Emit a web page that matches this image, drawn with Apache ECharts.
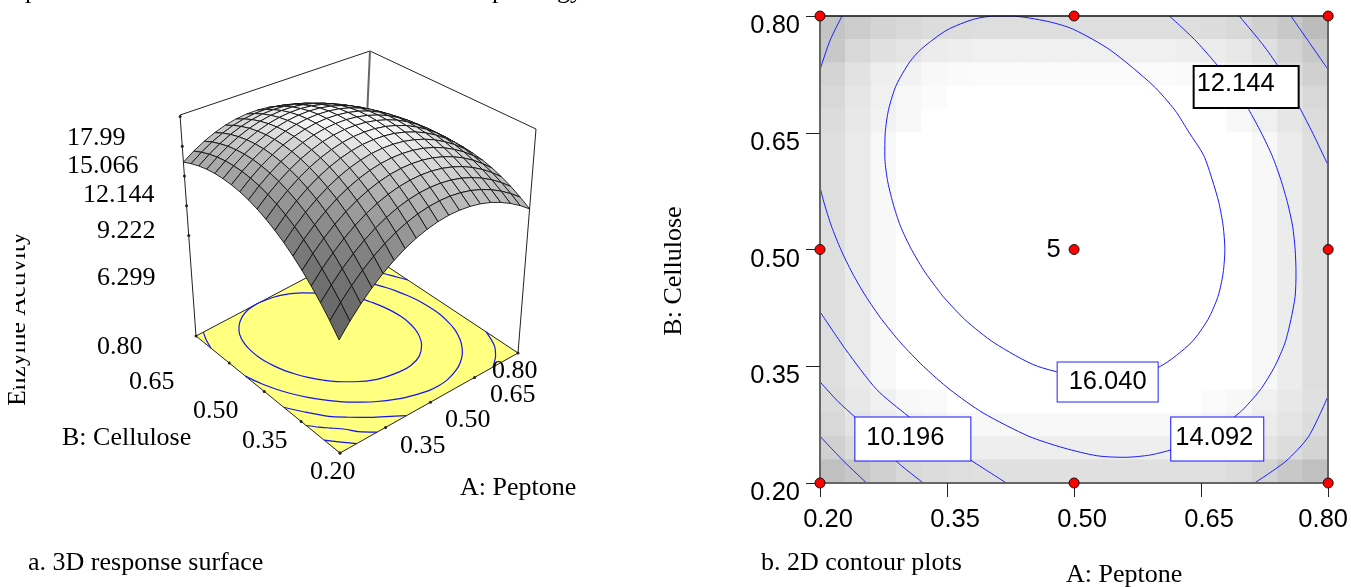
<!DOCTYPE html>
<html>
<head>
<meta charset="utf-8">
<title>Enzyme activity response surface</title>
<style>
  html, body { margin: 0; padding: 0; background: #fff; }
  #main { width: 1351px; height: 587px; }
</style>
<script src="https://cdn.jsdelivr.net/npm/echarts@6/dist/echarts.min.js"></script>
</head>
<body>
<div id="main"></div>
<script>
// surface heights, estimated from the contour levels and corner heights
// one row per B step (0.20 -> 0.80), one column per A step (0.20 -> 0.80)
const surfaceRows = [
  [6.33,7.53,8.62,9.59,10.44,11.18,11.81,12.33,12.72,13.01,13.18,13.23,13.17,13.00,12.71,12.30,11.78,11.15,10.40],
  [7.46,8.63,9.69,10.63,11.46,12.17,12.77,13.26,13.63,13.88,14.02,14.05,13.96,13.76,13.44,13.01,12.46,11.80,11.03],
  [8.50,9.64,10.67,11.59,12.39,13.07,13.64,14.10,14.44,14.67,14.78,14.78,14.67,14.44,14.09,13.63,13.06,12.37,11.57],
  [9.45,10.57,11.57,12.45,13.23,13.89,14.43,14.86,15.17,15.37,15.46,15.43,15.29,15.03,14.66,14.17,13.57,12.85,12.02],
  [10.32,11.41,12.38,13.24,13.98,14.61,15.13,15.53,15.82,15.99,16.05,15.99,15.82,15.53,15.13,14.62,13.99,13.24,12.39],
  [11.10,12.16,13.11,13.94,14.66,15.26,15.75,16.12,16.38,16.52,16.55,16.47,16.27,15.96,15.53,14.98,14.33,13.55,12.67],
  [11.80,12.83,13.75,14.55,15.24,15.82,16.28,16.62,16.86,16.97,16.97,16.86,16.63,16.29,15.84,15.26,14.58,13.78,12.86],
  [12.41,13.42,14.31,15.08,15.74,16.29,16.72,17.04,17.25,17.33,17.31,17.17,16.91,16.54,16.06,15.46,14.75,13.92,12.98],
  [12.94,13.92,14.78,15.53,16.16,16.68,17.08,17.37,17.55,17.61,17.56,17.39,17.10,16.71,16.19,15.57,14.83,13.97,13.00],
  [13.38,14.33,15.16,15.88,16.49,16.98,17.36,17.62,17.77,17.80,17.72,17.52,17.21,16.79,16.25,15.59,14.82,13.94,12.94],
  [13.74,14.66,15.46,16.16,16.73,17.20,17.55,17.78,17.90,17.91,17.80,17.57,17.23,16.78,16.21,15.53,14.73,13.82,12.79],
  [14.01,14.90,15.68,16.34,16.89,17.33,17.65,17.86,17.95,17.93,17.79,17.54,17.17,16.69,16.09,15.38,14.56,13.62,12.56],
  [14.19,15.06,15.81,16.45,16.97,17.38,17.67,17.85,17.91,17.86,17.70,17.42,17.02,16.51,15.89,15.15,14.30,13.33,12.25],
  [14.29,15.13,15.85,16.46,16.96,17.34,17.60,17.75,17.79,17.71,17.52,17.21,16.79,16.25,15.60,14.83,13.95,12.96,11.85],
  [14.31,15.12,15.81,16.39,16.86,17.21,17.45,17.57,17.58,17.47,17.25,16.92,16.47,15.90,15.22,14.43,13.52,12.50,11.36],
  [14.24,15.02,15.69,16.24,16.68,17.00,17.21,17.31,17.29,17.15,16.90,16.54,16.06,15.47,14.76,13.94,13.00,11.95,10.79],
  [14.08,14.83,15.47,16.00,16.41,16.71,16.89,16.95,16.91,16.74,16.47,16.08,15.57,14.95,14.22,13.37,12.40,11.32,10.13],
  [13.84,14.56,15.18,15.67,16.06,16.32,16.48,16.52,16.44,16.25,15.95,15.53,14.99,14.35,13.58,12.71,11.71,10.61,9.39],
  [13.51,14.21,14.79,15.26,15.62,15.86,15.98,15.99,15.89,15.67,15.34,14.89,14.33,13.66,12.87,11.96,10.94,9.81,8.56]
];
const surfaceSteps = surfaceRows.length - 1;

// contour lines as [A, B]
const contour16040 = [[0.345,0.44],[0.3245,0.47],[0.308,0.50],[0.295,0.53],[0.286,0.56],[0.2795,0.59],[0.2765,0.62],[0.277,0.65],[0.281,0.68],[0.290,0.711],[0.306,0.741],[0.320,0.758],[0.350,0.782],[0.382,0.796],[0.407,0.800],[0.425,0.800],[0.469,0.793],[0.499,0.783],[0.543,0.756],[0.593,0.711],[0.619,0.679],[0.636,0.65],[0.653,0.621],[0.663,0.59],[0.671,0.56],[0.676,0.53],[0.678,0.50],[0.676,0.47],[0.670,0.44],[0.658,0.41],[0.638,0.38],[0.602,0.35],[0.56,0.336],[0.52,0.336],[0.4567,0.35],[0.4058,0.38],[0.371,0.41],[0.345,0.44]];
const contour14092Main = [[0.6125,0.80],[0.642,0.77],[0.6665,0.74],[0.688,0.71],[0.706,0.68],[0.721,0.65],[0.734,0.62],[0.744,0.59],[0.752,0.56],[0.758,0.53],[0.761,0.50],[0.762,0.47],[0.761,0.44],[0.756,0.41],[0.749,0.38],[0.737,0.35],[0.72,0.32],[0.695,0.29],[0.6557,0.26],[0.6218,0.245],[0.59,0.236],[0.559,0.233],[0.527,0.235],[0.488,0.245],[0.4466,0.26],[0.3926,0.29],[0.3534,0.32],[0.322,0.35],[0.2954,0.38],[0.273,0.41],[0.254,0.44],[0.238,0.47],[0.2246,0.50],[0.2135,0.53],[0.2048,0.56],[0.2,0.58]];
const contour14092Corner = [[0.200,0.731],[0.212,0.769],[0.226,0.800]];
const contour12144Right = [[0.695,0.800],[0.723,0.763],[0.741,0.735],[0.766,0.683],[0.782,0.649],[0.800,0.608]];
const contour12144Left = [[0.200,0.420],[0.230,0.372],[0.267,0.320],[0.304,0.286],[0.340,0.256],[0.377,0.230],[0.420,0.200]];
const contour12144Corner = [[0.713,0.200],[0.750,0.228],[0.777,0.260],[0.800,0.312]];
const contour10196Left = [[0.200,0.330],[0.221,0.305],[0.242,0.284],[0.267,0.258],[0.288,0.230],[0.322,0.200]];
const contour10196Corner = [[0.756,0.800],[0.777,0.767],[0.800,0.731]];
const contour8248 = [[0.200,0.260],[0.228,0.228],[0.255,0.200]];
const contourLines = [contour16040, contour14092Main, contour14092Corner, contour12144Right, contour12144Left, contour12144Corner, contour10196Left, contour10196Corner, contour8248];

// grey level of the contour plot background cells, top row first
const w = 255;
const shadeRows = [
  [196,204,212,216,220,221,222,222,222,222,222,222,222,222,222,220,216,208,200,188],
  [200,216,224,228,236,238,240,240,240,240,240,240,240,240,238,236,232,224,212,200],
  [212,226,238,242,248,250,251,251,251,251,251,251,251,251,250,246,240,232,220,208],
  [216,230,240,248,251,w,w,w,w,w,w,w,w,w,w,w,248,240,228,216],
  [220,232,242,248,w,w,w,w,w,w,w,w,w,w,w,w,248,240,230,220],
  [222,234,248,w,w,w,w,w,w,w,w,w,w,w,w,w,w,248,236,222],
  [222,234,248,w,w,w,w,w,w,w,w,w,w,w,w,w,w,248,236,222],
  [222,234,248,w,w,w,w,w,w,w,w,w,w,w,w,w,w,248,236,222],
  [222,234,248,w,w,w,w,w,w,w,w,w,w,w,w,w,w,248,236,222],
  [222,234,248,w,w,w,w,w,w,w,w,w,w,w,w,w,w,248,236,222],
  [222,234,248,w,w,w,w,w,w,w,w,w,w,w,w,w,w,248,236,222],
  [222,234,248,w,w,w,w,w,w,w,w,w,w,w,w,w,w,248,236,222],
  [222,234,248,w,w,w,w,w,w,w,w,w,w,w,w,w,w,248,236,222],
  [222,234,248,w,w,w,w,w,w,w,w,w,w,w,w,w,w,248,236,222],
  [222,234,248,w,w,w,w,w,w,w,w,w,w,w,w,w,w,248,236,222],
  [222,234,248,w,w,w,w,w,w,w,w,w,w,w,w,w,w,248,236,222],
  [220,232,240,248,250,w,w,w,w,w,w,w,w,w,w,251,248,240,232,224],
  [216,228,236,240,244,248,248,248,248,248,248,248,248,248,248,244,240,236,228,220],
  [208,220,228,232,236,238,238,238,238,238,238,238,238,238,238,236,232,228,220,212],
  [192,200,208,216,220,222,224,224,224,224,224,224,224,224,224,224,220,212,200,192]
];

const designPoints = [[0.2,0.2],[0.5,0.2],[0.8,0.2],[0.2,0.5],[0.5,0.5],[0.8,0.5],[0.2,0.8],[0.5,0.8],[0.8,0.8]];
const factorTicks = [0.2, 0.35, 0.5, 0.65, 0.8];
const contourLabelText = ['12.144', '16.040', '10.196', '14.092'];
const responseTicks = [17.99, 15.066, 12.144, 9.222, 6.299];
const responseTickLabels = ['17.99', '15.066', '12.144', '9.222', '6.299'];
const cellulose3dLabels = ['0.80', '0.65', '0.50', '0.35', '0.20'];
const peptone3dLabels = ['0.80', '0.65', '0.50', '0.35'];

// where the boxes around the contour values sit, top left corner as [A, B]
const contourLabelAt = [[0.64235,0.73448],[0.48059,0.35482],[0.24176,0.28415],[0.61471,0.28415]];

// 3d box layout, in pixels of the left panel
const boxFloor = { front: [340,453], right: [518,353], back: [361,249], left: [196,336] };
const boxTop = { front: [338,205], right: [536,129], back: [370,51], left: [180,115] };
const zFloor = -3.56, zTop = 18.14;

function homography(q) {
  const [x0,y0] = q.front, [x1,y1] = q.right, [x2,y2] = q.back, [x3,y3] = q.left;
  const dx1 = x1-x2, dx2 = x3-x2, sx = x0-x1+x2-x3;
  const dy1 = y1-y2, dy2 = y3-y2, sy = y0-y1+y2-y3;
  const den = dx1*dy2 - dx2*dy1;
  const g = (sx*dy2 - dx2*sy)/den, h = (dx1*sy - sx*dy1)/den;
  const a = x1-x0+g*x1, b = x3-x0+h*x3, d = y1-y0+g*y1, e = y3-y0+h*y3;
  return (u, v) => {
    const k = g*u + h*v + 1;
    return [(a*u + b*v + x0)/k, (d*u + e*v + y0)/k];
  };
}
const floorMap = homography(boxFloor), topMap = homography(boxTop);

// A, B, response -> position on the hidden plane axes of the left panel
function project(A, B, z) {
  const u = (A-0.2)/0.6, v = (B-0.2)/0.6, t = (z-zFloor)/(zTop-zFloor);
  const p = floorMap(u, v), q = topMap(u, v);
  return [p[0] + (q[0]-p[0])*t, p[1] + (q[1]-p[1])*t];
}

const surfaceCells = [];
for (let r = surfaceSteps-1; r >= 0; r--) {
  for (let c = surfaceSteps-1; c >= 0; c--) surfaceCells.push([r, c]);
}
surfaceCells.sort((m, n) => (n[0]+n[1]) - (m[0]+m[1]));

function cellGrey(r, c) {
  const z = surfaceRows;
  const perCoded = surfaceSteps/4;
  const fa = (z[r][c+1] + z[r+1][c+1] - z[r][c] - z[r+1][c]) * perCoded;
  const fb = (z[r+1][c] + z[r+1][c+1] - z[r][c] - z[r][c+1]) * perCoded;
  const nx = -0.13*fa, ny = -0.13*fb;
  const lit = (0.1*nx + 1) / Math.sqrt(nx*nx + ny*ny + 1);
  const g = Math.round(Math.min(250, 255*lit));
  return 'rgb(' + g + ',' + g + ',' + g + ')';
}

const gridAt = i => 0.2 + i*0.6/surfaceSteps;

function renderSurfaceCell(params, api) {
  const r = api.value(0), c = api.value(1);
  const corners = [[r,c],[r,c+1],[r+1,c+1],[r+1,c]];
  const points = corners.map(k => api.coord(project(gridAt(k[1]), gridAt(k[0]), surfaceRows[k[0]][k[1]])));
  return {
    type: 'polygon',
    shape: { points },
    style: { fill: cellGrey(r, c), stroke: '#111', lineWidth: 0.9 }
  };
}

function renderFloor(params, api) {
  const points = [boxFloor.front, boxFloor.right, boxFloor.back, boxFloor.left].map(p => api.coord(p));
  return { type: 'polygon', shape: { points }, style: { fill: '#ffff80', stroke: '#222', lineWidth: 1 } };
}

const planeLine = (points, color, width, z, smooth) => ({
  type: 'line', xAxisIndex: 0, yAxisIndex: 0, data: points, symbol: 'none', silent: true, z,
  clip: false, smooth: smooth || false, lineStyle: { color, width }
});

const boxEdges = [
  [boxTop.left, boxTop.back, boxTop.right],
  [boxTop.left, boxFloor.left],
  [boxTop.right, boxFloor.right]
];

const boxTicks = [];
responseTicks.forEach(t => boxTicks.push(project(0.2, 0.8, t)));
factorTicks.forEach(t => {
  boxTicks.push(project(0.2, t, zFloor));
  boxTicks.push(project(t, 0.2, zFloor));
});

const serif = '"Liberation Serif", "Times New Roman", serif';
const sans = '"Liberation Sans", Arial, sans-serif';

function txt(text, x, y, opt) {
  return Object.assign({
    type: 'text', x, y, z: 20, silent: true,
    style: Object.assign({
      text, fill: '#000', fontSize: 26, fontFamily: serif, align: 'left', verticalAlign: 'middle'
    }, opt && opt.style)
  }, opt && opt.el);
}

const zLabelPos = [[67,138],[67,166],[83,195],[97,231],[97,278]];
const celluloseLabelPos = [[97,347],[129,382],[193,411],[242,441],[310,472]];
const peptoneLabelPos = [[492,371],[490,395],[445,420],[400,446]];

const graphicItems = [];
responseTickLabels.forEach((s, i) => graphicItems.push(txt(s, zLabelPos[i][0], zLabelPos[i][1])));
cellulose3dLabels.forEach((s, i) => graphicItems.push(txt(s, celluloseLabelPos[i][0], celluloseLabelPos[i][1])));
peptone3dLabels.forEach((s, i) => graphicItems.push(txt(s, peptoneLabelPos[i][0], peptoneLabelPos[i][1])));
graphicItems.push(
  txt('B: Cellulose', 62, 438),
  txt('A: Peptone', 460, 488),
  txt('a. 3D response surface', 28, 563),
  txt('b. 2D contour plots', 761, 563),
  txt('A: Peptone', 1066, 575),
  txt('Enzyme Activity', 18, 319, { style: { fontSize: 25.5, align: 'center' }, el: { rotation: Math.PI/2 } }),
  txt('B: Cellulose', 674, 271, { style: { align: 'center' }, el: { rotation: Math.PI/2 } }),
  txt('p', 25, 4, { style: { verticalAlign: 'bottom' } }),
  txt('p', 492, 4, { style: { verticalAlign: 'bottom' } }),
  txt('gy', 557, 4, { style: { verticalAlign: 'bottom' } }),
  { type: 'rect', z: 21, silent: true, shape: { x: 0, y: 220, width: 16, height: 168 }, style: { fill: '#fff' } }
);

const heatData = [];
shadeRows.forEach((row, r) => row.forEach((g, c) => heatData.push([c, 19-r, g])));

// boxes around the contour values: width, height, left padding, border
const labelBoxes = [
  { w: 103, h: 40, pad: 2, lift: 6, border: '#000', bw: 2 },
  { w: 100, h: 39, pad: 11, lift: 0, border: '#2222ff', bw: 1 },
  { w: 115, h: 43, pad: 11, lift: 2, border: '#1414ff', bw: 1 },
  { w: 92, h: 43, pad: 4, lift: 2, border: '#1414ff', bw: 1 }
];
const contourLabelData = contourLabelText.map((s, i) => {
  const b = labelBoxes[i];
  return {
    value: contourLabelAt[i],
    label: {
      formatter: s, color: '#000', width: b.w - b.pad, height: b.h - b.lift, lineHeight: b.h - b.lift,
      padding: [0, 0, b.lift, b.pad], borderColor: b.border, borderWidth: b.bw
    }
  };
});

const contourSeries = contourLines.map(pts => ({
  type: 'line', xAxisIndex: 1, yAxisIndex: 1, data: pts, symbol: 'none', silent: true, z: 4, clip: true,
  smooth: 0.25, lineStyle: { color: '#1a1aff', width: 1 }
}));
const floorContourSeries = contourLines.map(pts => planeLine(pts.map(p => project(p[0], p[1], zFloor)), '#1414f0', 1.2, 4, 0.25));

const option = {
  animation: false,
  backgroundColor: '#fff',
  grid: [
    { left: 0, top: 0, width: 600, height: 587 },
    { left: 820, top: 16, width: 510, height: 467 }
  ],
  xAxis: [
    { type: 'value', gridIndex: 0, min: 0, max: 600, show: false },
    {
      type: 'value', gridIndex: 1, position: 'bottom', min: 0.2, max: 0.8, z: 6,
      splitLine: { show: false },
      axisLine: { show: true, lineStyle: { color: '#666', width: 2 } },
      axisTick: { show: true, length: 14, customValues: factorTicks, lineStyle: { color: '#222', width: 1 } },
      axisLabel: {
        customValues: factorTicks, margin: 24, color: '#000',
        formatter: v => (v === 0.8 ? '{last|' : '{std|') + v.toFixed(2) + '}',
        rich: {
          std: { fontSize: 25.5, color: '#000', fontFamily: sans, padding: [0, 0, 0, 16] },
          last: { fontSize: 25.5, color: '#000', fontFamily: sans, padding: [0, 10, 0, 0] }
        }
      }
    },
    { type: 'category', gridIndex: 1, position: 'bottom', show: false, data: shadeRows[0].map((g, i) => i) },
    {
      type: 'value', gridIndex: 1, position: 'top', min: 0.2, max: 0.8, z: 6,
      splitLine: { show: false }, axisTick: { show: false }, axisLabel: { show: false },
      axisLine: { show: true, lineStyle: { color: '#111', width: 1.5 } }
    }
  ],
  yAxis: [
    { type: 'value', gridIndex: 0, min: 0, max: 587, inverse: true, show: false },
    {
      type: 'value', gridIndex: 1, position: 'left', min: 0.2, max: 0.8, z: 6,
      splitLine: { show: false },
      axisLine: { show: true, lineStyle: { color: '#666', width: 2 } },
      axisTick: { show: true, length: 14, customValues: factorTicks, lineStyle: { color: '#222', width: 1 } },
      axisLabel: {
        customValues: factorTicks, margin: 20, color: '#000',
        formatter: v => '{std|' + v.toFixed(2) + '}',
        rich: { std: { fontSize: 25.5, color: '#000', fontFamily: sans, padding: [20, 0, 0, 0] } }
      }
    },
    { type: 'category', gridIndex: 1, position: 'left', show: false, data: shadeRows.map((g, i) => i) },
    {
      type: 'value', gridIndex: 1, position: 'right', min: 0.2, max: 0.8, z: 6,
      splitLine: { show: false }, axisTick: { show: false }, axisLabel: { show: false },
      axisLine: { show: true, lineStyle: { color: '#666', width: 2 } }
    }
  ],
  visualMap: { show: false, type: 'continuous', seriesIndex: 0, min: 0, max: 255, inRange: { color: ['#000000', '#ffffff'] } },
  series: [
    { type: 'heatmap', xAxisIndex: 2, yAxisIndex: 2, data: heatData, silent: true, z: 2 },
    ...contourSeries,
    {
      type: 'scatter', xAxisIndex: 1, yAxisIndex: 1, data: contourLabelData, symbol: 'circle', symbolSize: 0, silent: true, z: 8, clip: false,
      itemStyle: { opacity: 1 },
      label: {
        show: true, position: [0, 0], align: 'left', verticalAlign: 'top',
        color: '#000', fontSize: 25.5, fontFamily: sans, backgroundColor: '#fff'
      }
    },
    {
      type: 'scatter', xAxisIndex: 1, yAxisIndex: 1, symbol: 'circle', symbolSize: 10, silent: true, z: 9, clip: false,
      itemStyle: { color: '#ff0000', borderColor: '#111', borderWidth: 1, opacity: 1 },
      data: designPoints.map(p => (p[0] === 0.5 && p[1] === 0.5)
        ? { value: p, label: { show: true, formatter: '5', position: 'left', distance: 8, color: '#000', fontSize: 25.5, fontFamily: sans } }
        : { value: p })
    },
    ...boxEdges.map(e => planeLine(e, '#222', 1, 1)),
    planeLine([boxTop.back, boxFloor.back], '#666', 2, 1),
    { type: 'custom', xAxisIndex: 0, yAxisIndex: 0, data: [[0, 0]], renderItem: renderFloor, silent: true, z: 3, clip: false },
    ...floorContourSeries,
    { type: 'custom', xAxisIndex: 0, yAxisIndex: 0, data: surfaceCells, renderItem: renderSurfaceCell, silent: true, z: 5, clip: false },
    {
      type: 'scatter', xAxisIndex: 0, yAxisIndex: 0, data: boxTicks, symbol: 'circle', symbolSize: 3, silent: true, z: 6, clip: false,
      itemStyle: { color: '#222', opacity: 1 }
    }
  ],
  graphic: { elements: graphicItems }
};

const myChart = echarts.init(document.getElementById('main'), null, { renderer: 'canvas' });
myChart.setOption(option);
</script>
</body>
</html>
